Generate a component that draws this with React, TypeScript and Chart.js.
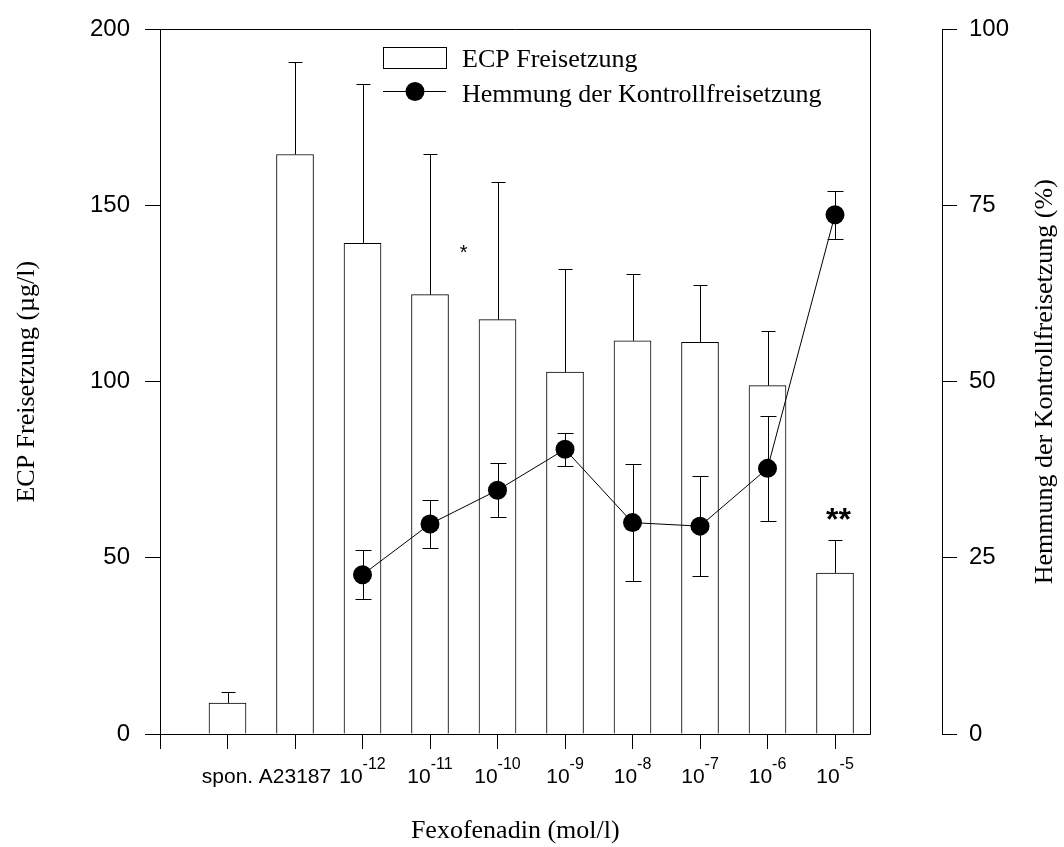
import React, { useEffect, useRef } from 'react';
import { Chart, registerables } from 'chart.js';

Chart.register(...registerables);

// ---- data ----
const tickPositions = [0, 1, 2, 3, 4, 5, 6, 7, 8, 9, 10];
const tickBaseLabels = ['', 'spon.', 'A23187', '10', '10', '10', '10', '10', '10', '10', '10'];
const tickExponents = ['', '', '', '-12', '-11', '-10', '-9', '-8', '-7', '-6', '-5'];

const ecpPositions = [1, 2, 3, 4, 5, 6, 7, 8, 9, 10];
const ecpValues = [8.8, 164.5, 139.3, 124.7, 117.6, 102.7, 111.6, 111.2, 98.9, 45.7];
const ecpErrors = [3.1, 26.2, 45.2, 39.8, 39.2, 29.4, 19.0, 16.3, 15.6, 9.3];

const inhibitionPositions = [3, 4, 5, 6, 7, 8, 9, 10];
const inhibitionValues = [22.6, 29.8, 34.6, 40.4, 30.0, 29.5, 37.7, 73.7];
const inhibitionErrors = [3.5, 3.4, 3.8, 2.3, 8.3, 7.1, 7.4, 3.4];

const markerLabels = ['*', '**'];
const markerPositions = [4.5, 10.05];
const markerValues = [138, 63];

const xTitle = 'Fexofenadin (mol/l)';
const yTitle = 'ECP Freisetzung (µg/l)';
const y2Title = 'Hemmung der Kontrollfreisetzung (%)';
const legendLabels = ['ECP Freisetzung', 'Hemmung der Kontrollfreisetzung'];

// ---- styling constants ----
const SANS = '"Liberation Sans", Arial, sans-serif';
const SERIF = '"Liberation Serif", "Times New Roman", serif';
const X_MAX = 11.585;
const FRAME_RIGHT_VALUE = 10.52;

const decorPlugin = {
  id: 'decor',
  afterDatasetDraw(chart: any, args: any) {
    if (args.index !== 1) return;
    const ctx = chart.ctx;
    const xs = chart.scales.x;
    const ys = chart.scales.y;
    const y2 = chart.scales.y2;
    ctx.save();
    ctx.strokeStyle = '#000';
    ctx.lineWidth = 1;
    const seg = (x1: number, y1: number, x2: number, y2p: number) => {
      ctx.beginPath();
      ctx.moveTo(x1, y1);
      ctx.lineTo(x2, y2p);
      ctx.stroke();
    };
    ecpPositions.forEach((p, i) => {
      const x = Math.round(xs.getPixelForValue(p)) + 0.5;
      const yb = ys.getPixelForValue(ecpValues[i]);
      const yt = Math.round(ys.getPixelForValue(ecpValues[i] + ecpErrors[i])) + 0.5;
      seg(x, yb, x, yt);
      seg(x - 7, yt, x + 7, yt);
    });
    inhibitionPositions.forEach((p, i) => {
      const x = Math.round(xs.getPixelForValue(p)) + 0.5;
      const yt = Math.round(y2.getPixelForValue(inhibitionValues[i] + inhibitionErrors[i])) + 0.5;
      const yb = Math.round(y2.getPixelForValue(inhibitionValues[i] - inhibitionErrors[i])) + 0.5;
      seg(x, yb, x, yt);
      seg(x - 8, yt, x + 8, yt);
      seg(x - 8, yb, x + 8, yb);
    });
    ctx.restore();
  },
  afterDraw(chart: any) {
    const ctx = chart.ctx;
    const xs = chart.scales.x;
    const ys = chart.scales.y;
    const area = chart.chartArea;
    ctx.save();
    ctx.strokeStyle = '#000';
    ctx.fillStyle = '#000';
    ctx.lineWidth = 1;
    // frame (top, right, bottom)
    const fr = Math.round(xs.getPixelForValue(FRAME_RIGHT_VALUE)) + 0.5;
    const top = Math.round(area.top) + 0.5;
    const bot = Math.round(area.bottom) + 0.5;
    const left = Math.round(area.left) + 0.5;
    ctx.beginPath();
    ctx.moveTo(left, top);
    ctx.lineTo(fr, top);
    ctx.lineTo(fr, bot);
    ctx.lineTo(left, bot);
    ctx.stroke();

    // x tick labels with superscripts
    tickPositions.forEach((p, i) => {
      const base = tickBaseLabels[i];
      const sup = tickExponents[i];
      if (!base) return;
      const px = xs.getPixelForValue(p);
      ctx.font = `21px ${SANS}`;
      const w1 = ctx.measureText(base).width;
      ctx.font = `16px ${SANS}`;
      const w2 = sup ? ctx.measureText(sup).width : 0;
      const start = px - (w1 + w2) / 2;
      ctx.textAlign = 'left';
      ctx.textBaseline = 'alphabetic';
      ctx.font = `21px ${SANS}`;
      ctx.fillText(base, start, 783);
      if (sup) {
        ctx.font = `16px ${SANS}`;
        ctx.fillText(sup, start + w1, 769);
      }
    });

    // axis titles
    ctx.font = `26px ${SERIF}`;
    ctx.textAlign = 'center';
    ctx.textBaseline = 'alphabetic';
    ctx.fillText(xTitle, (area.left + fr) / 2, 838);

    const midY = (area.top + area.bottom) / 2;
    ctx.save();
    ctx.translate(27, midY);
    ctx.rotate(-Math.PI / 2);
    ctx.textBaseline = 'middle';
    ctx.fillText(yTitle, 0, 0);
    ctx.restore();

    ctx.save();
    ctx.translate(1045, midY);
    ctx.rotate(-Math.PI / 2);
    ctx.textBaseline = 'middle';
    ctx.fillText(y2Title, 0, 0);
    ctx.restore();

    // legend
    ctx.fillStyle = '#fff';
    ctx.fillRect(383.5, 47.5, 63, 21);
    ctx.strokeRect(383.5, 47.5, 63, 21);
    ctx.fillStyle = '#000';
    ctx.beginPath();
    ctx.moveTo(383, 91.5);
    ctx.lineTo(446, 91.5);
    ctx.stroke();
    ctx.beginPath();
    ctx.arc(415, 91.5, 9.5, 0, Math.PI * 2);
    ctx.fill();
    ctx.font = `26px ${SERIF}`;
    ctx.textAlign = 'left';
    ctx.textBaseline = 'alphabetic';
    ctx.fillText(legendLabels[0], 462, 67);
    ctx.fillText(legendLabels[1], 462, 102);

    // significance markers
    markerLabels.forEach((m, i) => {
      const px = xs.getPixelForValue(markerPositions[i]);
      const py = ys.getPixelForValue(markerValues[i]);
      const size = m.length > 1 ? 32 : 20;
      ctx.font = `${m.length > 1 ? 'bold ' : ''}${size}px ${SANS}`;
      ctx.textAlign = 'center';
      ctx.textBaseline = 'alphabetic';
      ctx.fillText(m, px, py + 0.57 * size);
    });
    ctx.restore();
  },
};

export default function App() {
  const canvasRef = useRef<HTMLCanvasElement | null>(null);

  useEffect(() => {
    const canvas = canvasRef.current;
    if (!canvas) return;
    const chart = new Chart(canvas, {
      type: 'bar',
      data: {
        datasets: [
          {
            type: 'line',
            label: legendLabels[1],
            data: inhibitionPositions.map((x, i) => ({ x, y: inhibitionValues[i] })),
            xAxisID: 'x',
            yAxisID: 'y2',
            borderColor: '#000',
            borderWidth: 1,
            pointRadius: 9.5,
            pointBackgroundColor: '#000',
            pointBorderColor: '#000',
            pointBorderWidth: 0,
            tension: 0,
            fill: false,
            order: 0,
          } as any,
          {
            type: 'bar',
            label: legendLabels[0],
            data: ecpPositions.map((x, i) => ({ x, y: ecpValues[i] })),
            xAxisID: 'x',
            yAxisID: 'y',
            backgroundColor: '#fff',
            borderColor: '#000',
            borderWidth: 1,
            barThickness: 37,
            order: 1,
          } as any,
        ],
      },
      options: {
        animation: false,
        responsive: false,
        devicePixelRatio: 1,
        events: [],
        layout: { padding: { top: 26, left: 0, right: 0, bottom: 0 }, autoPadding: false } as any,
        plugins: {
          legend: { display: false },
          tooltip: { enabled: false },
          title: { display: false },
        },
        scales: {
          x: {
            type: 'linear',
            position: 'bottom',
            offset: false,
            min: 0,
            max: X_MAX,
            afterBuildTicks: (s: any) => {
              s.ticks = tickPositions.map((v) => ({ value: v }));
            },
            afterFit: (s: any) => {
              s.height = 113;
            },
            ticks: { display: false },
            grid: {
              display: true,
              offset: false,
              drawOnChartArea: false,
              drawTicks: true,
              tickLength: 15,
              color: '#000',
              lineWidth: 1,
            },
            border: { display: false },
          },
          y: {
            type: 'linear',
            position: 'left',
            min: 0,
            max: 200,
            ticks: {
              stepSize: 50,
              color: '#000',
              padding: 15,
              font: { family: SANS, size: 24 },
            },
            grid: {
              display: true,
              drawOnChartArea: false,
              drawTicks: true,
              tickLength: 15,
              color: '#000',
              lineWidth: 1,
            },
            border: { display: true, color: '#000', width: 1 },
            afterFit: (s: any) => {
              s.width = 160;
            },
          },
          y2: {
            type: 'linear',
            position: 'right',
            min: 0,
            max: 100,
            ticks: {
              stepSize: 25,
              color: '#000',
              padding: 12,
              font: { family: SANS, size: 24 },
            },
            grid: {
              display: true,
              drawOnChartArea: false,
              drawTicks: true,
              tickLength: 15,
              color: '#000',
              lineWidth: 1,
            },
            border: { display: true, color: '#000', width: 1 },
            afterFit: (s: any) => {
              s.width = 122;
            },
          },
        },
      } as any,
      plugins: [decorPlugin as any],
    });
    return () => chart.destroy();
  }, []);

  return (
    <div style={{ position: 'absolute', left: 0, top: 0, width: 1064, height: 847, background: '#fff' }}>
      <canvas ref={canvasRef} width={1064} height={847} style={{ display: 'block', width: 1064, height: 847 }} />
    </div>
  );
}
